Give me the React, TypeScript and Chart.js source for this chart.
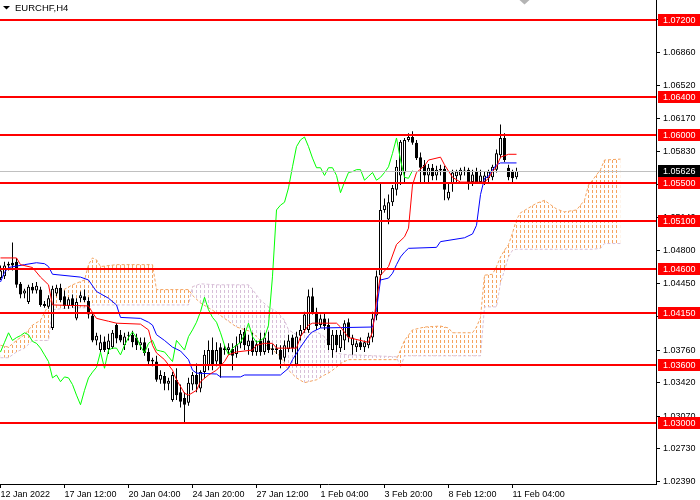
import React, { useEffect, useRef } from 'react';
import { Chart, registerables } from 'chart.js';

Chart.register(...registerables);

// ---------- data ----------
const symbolTitle = 'EURCHF,H4';

const xTickIdx = [0, 16, 32, 48, 64, 80, 96, 112, 128];
const xTickLabels = ['12 Jan 2022', '17 Jan 12:00', '20 Jan 04:00', '24 Jan 20:00', '27 Jan 12:00', '1 Feb 04:00', '3 Feb 20:00', '8 Feb 12:00', '11 Feb 04:00'];

const yTicks = [1.072, 1.0686, 1.0652, 1.0617, 1.0583, 1.0549, 1.0514, 1.048, 1.0445, 1.0411, 1.0376, 1.0342, 1.0307, 1.0273, 1.0239];

const levels = [1.072, 1.064, 1.06, 1.055, 1.051, 1.046, 1.0415, 1.036, 1.03];

const opens = [
  1.0451, 1.0453, 1.0464, 1.0467, 1.0468, 1.0445, 1.0435, 1.0426, 1.0442, 1.0438,
  1.0439, 1.0424, 1.0421, 1.0399, 1.0435, 1.0441, 1.0432, 1.0422, 1.0430, 1.0409,
  1.0430, 1.0432, 1.0427, 1.0412, 1.0386, 1.0376, 1.0385, 1.0377, 1.0379, 1.0402,
  1.0392, 1.0381, 1.0391, 1.0392, 1.0389, 1.0381, 1.0384, 1.0374, 1.0364, 1.0364,
  1.0345, 1.0349, 1.0341, 1.0324, 1.0345, 1.0332, 1.0326, 1.0321, 1.0340, 1.0350,
  1.0336, 1.0353, 1.0360, 1.0376, 1.0364, 1.0379, 1.0376, 1.0376, 1.0377, 1.0372,
  1.0383, 1.0395, 1.0380, 1.0386, 1.0374, 1.0386, 1.0374, 1.0386, 1.0376, 1.0378,
  1.0376, 1.0368, 1.0377, 1.0389, 1.0361, 1.0391, 1.0397, 1.0397, 1.0432, 1.0416,
  1.0402, 1.0409, 1.0402, 1.0376, 1.0392, 1.0378, 1.0386, 1.0405, 1.0381, 1.0379,
  1.0384, 1.0379, 1.0381, 1.0389, 1.0412, 1.0454, 1.0522, 1.0512, 1.0530, 1.0543,
  1.0558, 1.0561, 1.0595, 1.0598, 1.0592, 1.0577, 1.0569, 1.0558, 1.0566, 1.0558,
  1.0565, 1.0565, 1.0534, 1.0550, 1.0557, 1.0558, 1.0563, 1.0564, 1.0551, 1.0562,
  1.0551, 1.0551, 1.0555, 1.0556, 1.0564, 1.0579, 1.0597, 1.0566, 1.0562, 1.0556,
];
const highs = [
  1.0464, 1.0468, 1.0468, 1.0488, 1.0472, 1.0447, 1.0440, 1.0444, 1.0446, 1.0447,
  1.0442, 1.0427, 1.0433, 1.0443, 1.0444, 1.0445, 1.0438, 1.0431, 1.0434, 1.0430,
  1.0437, 1.0439, 1.0431, 1.0415, 1.0394, 1.0392, 1.0390, 1.0393, 1.0397, 1.0404,
  1.0397, 1.0394, 1.0395, 1.0396, 1.0393, 1.0389, 1.0389, 1.0378, 1.0368, 1.0370,
  1.0355, 1.0353, 1.0347, 1.0353, 1.0357, 1.0340, 1.0332, 1.0347, 1.0353, 1.0362,
  1.0355, 1.0376, 1.0386, 1.0389, 1.0384, 1.0383, 1.0381, 1.0383, 1.0383, 1.0390,
  1.0397, 1.0399, 1.0392, 1.0394, 1.0386, 1.0394, 1.0394, 1.0395, 1.0382, 1.0382,
  1.0381, 1.0386, 1.0392, 1.0392, 1.0395, 1.0402, 1.0416, 1.0439, 1.0441, 1.0420,
  1.0413, 1.0415, 1.0409, 1.0397, 1.0397, 1.0397, 1.0407, 1.0409, 1.0392, 1.0386,
  1.0389, 1.0386, 1.0394, 1.0416, 1.0459, 1.0551, 1.0534, 1.0538, 1.0548, 1.0574,
  1.0595, 1.0597, 1.0602, 1.0604, 1.0595, 1.0582, 1.0574, 1.0570, 1.0570, 1.0568,
  1.0569, 1.0568, 1.0550, 1.0564, 1.0564, 1.0566, 1.0567, 1.0566, 1.0564, 1.0566,
  1.0564, 1.0562, 1.0564, 1.0569, 1.0585, 1.0611, 1.0602, 1.0569, 1.0564, 1.0566,
];
const lows = [
  1.0449, 1.0450, 1.0459, 1.0459, 1.0441, 1.0430, 1.0430, 1.0424, 1.0435, 1.0435,
  1.0421, 1.0420, 1.0419, 1.0397, 1.0432, 1.0426, 1.0419, 1.0419, 1.0420, 1.0407,
  1.0426, 1.0426, 1.0409, 1.0384, 1.0381, 1.0374, 1.0374, 1.0372, 1.0377, 1.0383,
  1.0384, 1.0376, 1.0386, 1.0379, 1.0376, 1.0376, 1.0370, 1.0360, 1.0359, 1.0343,
  1.0341, 1.0334, 1.0334, 1.0322, 1.0324, 1.0316, 1.0301, 1.0318, 1.0334, 1.0332,
  1.0332, 1.0347, 1.0355, 1.0355, 1.0359, 1.0347, 1.0371, 1.0371, 1.0355, 1.0368,
  1.0378, 1.0376, 1.0371, 1.0370, 1.0370, 1.0370, 1.0371, 1.0373, 1.0371, 1.0372,
  1.0357, 1.0364, 1.0374, 1.0374, 1.0359, 1.0386, 1.0394, 1.0394, 1.0413, 1.0397,
  1.0399, 1.0397, 1.0376, 1.0368, 1.0374, 1.0374, 1.0376, 1.0384, 1.0371, 1.0374,
  1.0376, 1.0374, 1.0378, 1.0384, 1.0407, 1.0449, 1.0519, 1.0507, 1.0526, 1.0537,
  1.0548, 1.0550, 1.0593, 1.0590, 1.0574, 1.0550, 1.0550, 1.0550, 1.0553, 1.0553,
  1.0558, 1.0532, 1.0532, 1.0541, 1.0550, 1.0553, 1.0558, 1.0543, 1.0547, 1.0550,
  1.0549, 1.0548, 1.0551, 1.0553, 1.0561, 1.0576, 1.0572, 1.0553, 1.0551, 1.0554,
];
const closes = [
  1.0459, 1.0464, 1.0466, 1.0464, 1.0444, 1.0434, 1.0438, 1.0442, 1.0438, 1.0443,
  1.0423, 1.0422, 1.0430, 1.0440, 1.0441, 1.0428, 1.0422, 1.0429, 1.0422, 1.0426,
  1.0433, 1.0428, 1.0413, 1.0386, 1.0391, 1.0384, 1.0376, 1.0386, 1.0394, 1.0388,
  1.0386, 1.0390, 1.0392, 1.0384, 1.0381, 1.0384, 1.0373, 1.0364, 1.0366, 1.0345,
  1.0350, 1.0341, 1.0344, 1.0350, 1.0329, 1.0322, 1.0319, 1.0342, 1.0350, 1.0340,
  1.0353, 1.0371, 1.0376, 1.0360, 1.0376, 1.0360, 1.0378, 1.0379, 1.0370, 1.0381,
  1.0393, 1.0381, 1.0386, 1.0374, 1.0382, 1.0374, 1.0389, 1.0376, 1.0378, 1.0376,
  1.0366, 1.0381, 1.0386, 1.0378, 1.0390, 1.0397, 1.0413, 1.0432, 1.0415, 1.0401,
  1.0409, 1.0401, 1.0381, 1.0392, 1.0381, 1.0392, 1.0404, 1.0389, 1.0389, 1.0383,
  1.0379, 1.0384, 1.0390, 1.0409, 1.0453, 1.0522, 1.0527, 1.0530, 1.0545, 1.0567,
  1.0593, 1.0595, 1.0598, 1.0592, 1.0576, 1.0566, 1.0558, 1.0566, 1.0557, 1.0564,
  1.0563, 1.0543, 1.0541, 1.0561, 1.0562, 1.0564, 1.0564, 1.0551, 1.0559, 1.0551,
  1.0558, 1.0558, 1.0562, 1.0567, 1.0581, 1.0597, 1.0574, 1.0556, 1.0555, 1.05626,
];

// Tenkan-sen (red)
const tenkanIdx = [0, 4, 5, 8, 10, 12, 13, 22, 23, 24, 27, 29, 35, 37, 38, 39, 41, 43, 44, 46, 47, 49, 50, 52, 54, 56, 57, 59, 63, 64, 66, 68, 69, 74, 75, 77, 78, 84, 85, 87, 92, 93, 94, 95, 97, 99, 101, 102, 103, 104, 106, 107, 110, 111, 113, 115, 121, 122, 123, 124, 125, 127, 129];
const tenkanVal = [1.0472, 1.0472, 1.0465, 1.0462, 1.0452, 1.0444, 1.0423, 1.0422, 1.0415, 1.0409, 1.0406, 1.0404, 1.0403, 1.0397, 1.0381, 1.0373, 1.0366, 1.0355, 1.0345, 1.0331, 1.0329, 1.0334, 1.0343, 1.0350, 1.0355, 1.0364, 1.0371, 1.0374, 1.0376, 1.0381, 1.0383, 1.0383, 1.0378, 1.0378, 1.0390, 1.0402, 1.0404, 1.0404, 1.0400, 1.0389, 1.0384, 1.0395, 1.0428, 1.0454, 1.0463, 1.0486, 1.0494, 1.0503, 1.0548, 1.0561, 1.0568, 1.0574, 1.0577, 1.0569, 1.0556, 1.0551, 1.0551, 1.0555, 1.0562, 1.0567, 1.0577, 1.0580, 1.0580];

// Kijun-sen (blue)
const kijunIdx = [0, 1, 2, 6, 9, 11, 12, 13, 20, 22, 24, 27, 29, 30, 35, 37, 38, 39, 41, 43, 45, 47, 48, 49, 54, 55, 60, 61, 70, 72, 73, 75, 77, 78, 80, 93, 94, 95, 97, 98, 99, 100, 101, 102, 109, 110, 116, 118, 119, 120, 121, 122, 123, 124, 125, 129];
const kijunVal = [1.0447, 1.0457, 1.0462, 1.0465, 1.0467, 1.0466, 1.0463, 1.0455, 1.0452, 1.0449, 1.0437, 1.0430, 1.0423, 1.0410, 1.0409, 1.0405, 1.0402, 1.0392, 1.0386, 1.0379, 1.0375, 1.0366, 1.0355, 1.0352, 1.0351, 1.0348, 1.0348, 1.0350, 1.0350, 1.0357, 1.0366, 1.0379, 1.0391, 1.0395, 1.0399, 1.0400, 1.0418, 1.0449, 1.0451, 1.0456, 1.0465, 1.0473, 1.0478, 1.0482, 1.0483, 1.0489, 1.0493, 1.0497, 1.0506, 1.0538, 1.0555, 1.0557, 1.0564, 1.0569, 1.0571, 1.0571];

// Chikou span (green), bars 0..103
const chikou = [
  1.0374, 1.0384, 1.0394, 1.0386, 1.0389, 1.0391, 1.0394, 1.0392, 1.0385, 1.0383,
  1.0378, 1.0371, 1.0364, 1.0347, 1.0350, 1.0343, 1.0348, 1.0347, 1.0340, 1.0329,
  1.0319, 1.0334, 1.0347, 1.0353, 1.0358, 1.0374, 1.0357, 1.0376, 1.0378, 1.0378,
  1.0371, 1.0381, 1.0389, 1.0395, 1.0389, 1.0380, 1.0373, 1.0383, 1.0386, 1.0376,
  1.0375, 1.0374, 1.0369, 1.0364, 1.0386, 1.0381, 1.0376, 1.0390, 1.0397, 1.0405,
  1.0416, 1.0431, 1.0418, 1.0410, 1.0405, 1.0394, 1.0381, 1.0371, 1.0378, 1.0381,
  1.0384, 1.0392, 1.0404, 1.0390, 1.0384, 1.0386, 1.0389, 1.0402, 1.0453, 1.0522,
  1.0527, 1.0530, 1.0545, 1.0567, 1.0588, 1.0595, 1.0598, 1.0588, 1.0576, 1.0566,
  1.0566, 1.0558, 1.0566, 1.0566, 1.0558, 1.0540, 1.0551, 1.0561, 1.0562, 1.0564,
  1.0564, 1.0553, 1.0557, 1.0561, 1.0553, 1.0556, 1.0561, 1.0567, 1.0581, 1.0597,
  1.0574, 1.0556, 1.0555, 1.0563,
];

// Kumo (Senkou span A / B), shifted forward
const cloudIdx = [0, 2, 4, 6, 8, 10, 12, 13, 15, 18, 21, 22, 23, 24, 25, 29, 38, 39, 47, 48, 50, 54, 59, 62, 63, 65, 67, 69, 70, 71, 72, 74, 76, 79, 81, 82, 83, 84, 85, 87, 88, 99, 100, 101, 103, 106, 110, 112, 113, 118, 119, 120, 121, 123, 124, 125, 126, 127, 128, 129, 130, 132, 134, 136, 137, 139, 141, 144, 146, 147, 148, 150, 151, 155];
const spanA = [1.0381, 1.0379, 1.0386, 1.0392, 1.0402, 1.0407, 1.0423, 1.0431, 1.0437, 1.0444, 1.0449, 1.0465, 1.0472, 1.0470, 1.0463, 1.0465, 1.0465, 1.0439, 1.0439, 1.0433, 1.0425, 1.0415, 1.0400, 1.0396, 1.0394, 1.0386, 1.0379, 1.0373, 1.0369, 1.0362, 1.0355, 1.0347, 1.0342, 1.0345, 1.0350, 1.0352, 1.0355, 1.0358, 1.0362, 1.0366, 1.0366, 1.0366, 1.0376, 1.0386, 1.0397, 1.0400, 1.0401, 1.0399, 1.0394, 1.0394, 1.0400, 1.0410, 1.0454, 1.0455, 1.0463, 1.0473, 1.0480, 1.0486, 1.0498, 1.0512, 1.0519, 1.0524, 1.0529, 1.0532, 1.0529, 1.0523, 1.0520, 1.0522, 1.0532, 1.0548, 1.0553, 1.0564, 1.0574, 1.0575];
const spanB = [1.0368, 1.0368, 1.0374, 1.0378, 1.0386, 1.0386, 1.0386, 1.0418, 1.0419, 1.0420, 1.0420, 1.0420, 1.0423, 1.0423, 1.0423, 1.0423, 1.0423, 1.0423, 1.0423, 1.0442, 1.0445, 1.0444, 1.0444, 1.0444, 1.0439, 1.0428, 1.0421, 1.0416, 1.0412, 1.0407, 1.0397, 1.0392, 1.0394, 1.0395, 1.0390, 1.0384, 1.0379, 1.0373, 1.0372, 1.0371, 1.0371, 1.0369, 1.0358, 1.0370, 1.0370, 1.0370, 1.0370, 1.0370, 1.0370, 1.0370, 1.0370, 1.0370, 1.0421, 1.0421, 1.0421, 1.0446, 1.0459, 1.0473, 1.0480, 1.0481, 1.0481, 1.0481, 1.0481, 1.0481, 1.0481, 1.0481, 1.0481, 1.0481, 1.0481, 1.0481, 1.0481, 1.0482, 1.0487, 1.0487];

const shiftMarkerIdx = 131;

const FONT = '"Liberation Sans", Arial, sans-serif';

export default function App() {
  const ref = useRef<HTMLCanvasElement | null>(null);

  useEffect(() => {
    document.body.style.margin = '0';
    const canvas = ref.current as HTMLCanvasElement;
    const mainCtx = canvas.getContext('2d') as CanvasRenderingContext2D;

    const mkPattern = (color: string) => {
      const c = document.createElement('canvas');
      c.width = 4;
      c.height = 5;
      const g = c.getContext('2d') as CanvasRenderingContext2D;
      g.fillStyle = color;
      g.fillRect(0, 0, 1, 3);
      return mainCtx.createPattern(c, 'repeat') as CanvasPattern;
    };
    const orangePat = mkPattern('#F4A460');
    const thistlePat = mkPattern('#D8BFD8');

    const barIdx = opens.map((_, i) => i);
    const wickData = barIdx.map((i) => ({ x: i, y: [lows[i], highs[i]] }));
    const bodyData = barIdx.map((i) => ({ x: i, y: [opens[i], closes[i]] }));
    const bodyColors = barIdx.map((i) => (closes[i] >= opens[i] ? '#ffffff' : '#000000'));
    const tenkanData = tenkanIdx.map((x, k) => ({ x, y: tenkanVal[k] }));
    const kijunData = kijunIdx.map((x, k) => ({ x, y: kijunVal[k] }));
    const chikouData = chikou.map((y, i) => ({ x: i, y }));
    const spanAData = cloudIdx.map((x, k) => ({ x, y: spanA[k] }));
    const spanBData = cloudIdx.map((x, k) => ({ x, y: spanB[k] }));
    const currentPrice = closes[closes.length - 1];

    const overlay = {
      id: 'mtOverlay',
      afterDatasetsDraw(chart: any) {
        const { ctx, chartArea, scales } = chart;
        ctx.save();
        // bid line
        const yb = Math.round(scales.y.getPixelForValue(currentPrice)) + 0.5;
        ctx.strokeStyle = '#c0c0c0';
        ctx.lineWidth = 1;
        ctx.beginPath();
        ctx.moveTo(chartArea.left, yb);
        ctx.lineTo(chartArea.right, yb);
        ctx.stroke();
        // horizontal levels
        ctx.strokeStyle = '#ff0000';
        ctx.lineWidth = 2;
        levels.forEach((lv) => {
          const y = Math.round(scales.y.getPixelForValue(lv));
          ctx.beginPath();
          ctx.moveTo(chartArea.left, y);
          ctx.lineTo(chartArea.right, y);
          ctx.stroke();
        });
        ctx.restore();
      },
      afterDraw(chart: any) {
        const { ctx, chartArea, scales, width } = chart;
        ctx.save();
        ctx.font = '9px ' + FONT;
        ctx.textBaseline = 'middle';
        ctx.textAlign = 'left';
        const box = (value: number, bg: string) => {
          const y = Math.round(scales.y.getPixelForValue(value));
          ctx.fillStyle = bg;
          ctx.fillRect(chartArea.right + 2, y - 6, width - chartArea.right - 2, 12);
          ctx.fillStyle = '#ffffff';
          ctx.fillText(value.toFixed(5), chartArea.right + 7, y + 0.5);
        };
        levels.forEach((lv) => box(lv, '#ff0000'));
        box(currentPrice, '#000000');

        // title
        ctx.fillStyle = '#000000';
        ctx.beginPath();
        ctx.moveTo(3, 6);
        ctx.lineTo(10, 6);
        ctx.lineTo(6.5, 9.5);
        ctx.closePath();
        ctx.fill();
        ctx.font = '9.5px ' + FONT;
        ctx.fillText(symbolTitle, 15, 8);

        // chart shift marker
        const mx = scales.x.getPixelForValue(shiftMarkerIdx);
        ctx.fillStyle = '#b4b4b4';
        ctx.beginPath();
        ctx.moveTo(mx - 5, 0);
        ctx.lineTo(mx + 5, 0);
        ctx.lineTo(mx, 4.5);
        ctx.closePath();
        ctx.fill();
        ctx.restore();
      },
    };

    const lineBase = { type: 'line', pointRadius: 0, borderWidth: 1, tension: 0, fill: false };

    const chart = new Chart(canvas, {
      type: 'bar',
      data: {
        datasets: [
          { ...lineBase, label: 'Tenkan', data: tenkanData, borderColor: '#ff0000', order: 1 },
          { ...lineBase, label: 'Kijun', data: kijunData, borderColor: '#0000ff', order: 2 },
          { ...lineBase, label: 'Chikou', data: chikouData, borderColor: '#00ff00', order: 3 },
          {
            type: 'bar', label: 'Bodies', data: bodyData, backgroundColor: bodyColors,
            borderColor: '#000000', borderWidth: 1, borderSkipped: false, barThickness: 3,
            grouped: false, inflateAmount: 0, order: 4,
          },
          {
            type: 'bar', label: 'Wicks', data: wickData, backgroundColor: '#000000',
            borderWidth: 0, barThickness: 1, grouped: false, inflateAmount: 0, order: 5,
          },
          {
            ...lineBase, label: 'SpanA', data: spanAData, borderColor: '#F4A460', borderDash: [3, 2],
            fill: { target: '+1', above: orangePat, below: thistlePat }, order: 6,
          },
          { ...lineBase, label: 'SpanB', data: spanBData, borderColor: '#D8BFD8', borderDash: [3, 2], order: 7 },
        ] as any,
      },
      options: {
        responsive: false,
        animation: false,
        devicePixelRatio: 1,
        events: [],
        layout: { padding: 0, autoPadding: false } as any,
        plugins: { legend: { display: false }, tooltip: { enabled: false }, title: { display: false } },
        scales: {
          x: {
            type: 'linear',
            min: -0.125,
            max: 163.875,
            offset: false,
            afterBuildTicks: (s: any) => { s.ticks = xTickIdx.map((v) => ({ value: v })); },
            afterFit: (s: any) => { s.height = 16; s.paddingLeft = 0; s.paddingRight = 0; s.paddingTop = 0; s.paddingBottom = 0; },
            grid: { display: true, drawOnChartArea: false, drawTicks: true, tickLength: 4, color: '#000000', offset: false },
            border: { display: true, color: '#000000', width: 1 },
            ticks: {
              autoSkip: false, maxRotation: 0, minRotation: 0, align: 'start', padding: 1,
              color: '#000000', font: { family: FONT, size: 9 },
              callback: (_v: any, i: number) => xTickLabels[i],
            },
          },
          y: {
            type: 'linear',
            position: 'right',
            min: 1.02364,
            max: 1.07408,
            beginAtZero: false,
            bounds: 'data',
            afterBuildTicks: (s: any) => { s.ticks = yTicks.map((v) => ({ value: v })); },
            afterFit: (s: any) => { s.width = 44; s.paddingLeft = 0; s.paddingRight = 0; s.paddingTop = 0; s.paddingBottom = 0; },
            grid: { display: true, drawOnChartArea: false, drawTicks: true, tickLength: 4, color: '#000000' },
            border: { display: true, color: '#000000', width: 1 },
            ticks: {
              autoSkip: false, padding: 3, color: '#000000', font: { family: FONT, size: 9 },
              callback: (v: any) => Number(v).toFixed(5),
            },
          },
        } as any,
      },
      plugins: [overlay as any],
    });

    return () => chart.destroy();
  }, []);

  return (
    <div style={{ width: 700, height: 500, background: '#ffffff' }}>
      <canvas ref={ref} width={700} height={500} style={{ display: 'block' }} />
    </div>
  );
}
